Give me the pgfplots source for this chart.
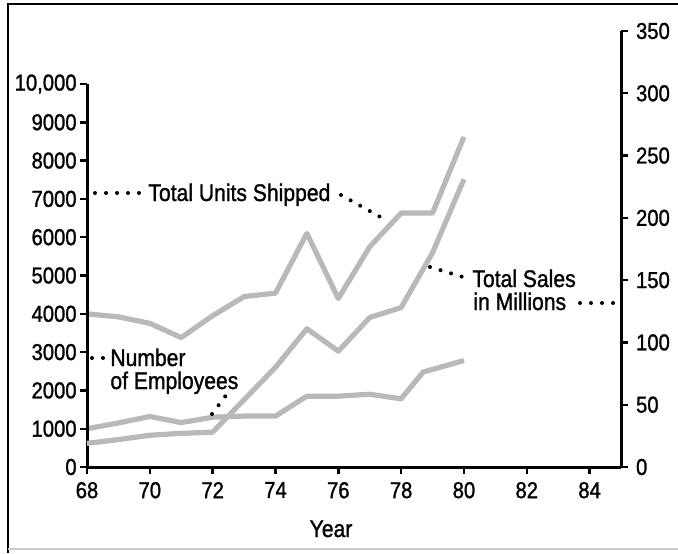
\documentclass[border=0pt]{standalone}
\usepackage{fontspec}
\setmainfont{Liberation Sans}[FakeStretch=0.88, FakeBold=1.2]
\usepackage{pgfplots}
\pgfplotsset{compat=1.18}
\definecolor{linegray}{RGB}{185,185,185}
\tikzset{leader/.style={line width=2pt, line cap=round, dash pattern=on 0pt off 5.5pt}}
\newcommand{\lblfont}{\fontsize{11.5}{13}\selectfont}
\newcommand{\annfont}{\fontsize{12}{14}\selectfont}
\begin{document}
\lblfont
\begin{tikzpicture}
\path[use as bounding box] (0,0) rectangle (339pt,276.5pt);
\begin{scope}[shift={(0pt,276.5pt)},x=0.5pt,y=-0.5pt]
  \draw[line width=1pt] (8,553) -- (8,4) -- (678,4);
  \draw[line width=0.6pt, black!20] (8,549) -- (678,549);
\end{scope}

\begin{axis}[
  at={(43.5pt,43pt)}, anchor=south west, scale only axis,
  width=267pt, height=218pt,
  xmin=68, xmax=85, ymin=0, ymax=11384,
  axis x line*=bottom, axis y line*=left,
  y axis line style={draw=none},
  x axis line style={-, line width=1.5pt},
  scaled y ticks=false, scaled x ticks=false,
  xtick={68,70,...,84},
  xticklabel={\lblfont\pgfmathprintnumber[assume math mode=true,1000 sep={}]{\tick}},
  ytick={0,1000,...,10000},
  yticklabels={0,1000,2000,3000,4000,5000,6000,7000,8000,9000,{10,000}},
  yticklabel style={inner sep=1.5pt},
  tick align=outside,
  major tick length=3.5pt,
  tick style={line width=1.2pt, black},
  ticklabel style={font=\lblfont},
  clip=false,
]
% Total Units Shipped
\addplot[linegray, line width=2.6pt, line join=round] coordinates {
  (68,4000) (69,3920) (70,3750) (71,3380) (72,3950) (73,4450) (74,4540)
  (75,6100) (76,4400) (77,5750) (78,6630) (79,6630) (80,8620)
};
% Number of Employees
\addplot[linegray, line width=2.6pt, line join=round] coordinates {
  (68,1000) (69,1150) (70,1320) (71,1160) (72,1300) (73,1330) (74,1330)
  (75,1850) (76,1850) (77,1900) (78,1780) (78.7,2480) (80,2780)
};
\draw[line width=1.5pt] (axis cs:68,0) -- (axis cs:68,10000);
\end{axis}

\begin{axis}[
  at={(43.5pt,43pt)}, anchor=south west, scale only axis,
  width=267pt, height=218pt,
  xmin=68, xmax=85, ymin=0, ymax=350,
  axis x line=none, axis y line*=right,
  y axis line style={-, line width=1.5pt},
  ytick={0,50,...,350},
  yticklabel={\lblfont\pgfmathprintnumber[assume math mode=true]{\tick}},
  tick align=outside,
  major tick length=3.5pt,
  tick style={line width=1.2pt, black},
  ticklabel style={font=\lblfont},
  clip=false,
]
% Total Sales in Millions
\addplot[linegray, line width=2.6pt, line join=round] coordinates {
  (68,19) (69,22) (70,25.5) (71,27) (72,28) (73,54) (74,80)
  (75,111) (76,93) (77,120) (78,128) (79,172) (80,231)
};
\end{axis}

\begin{scope}[shift={(0pt,276.5pt)},x=0.5pt,y=-0.5pt, every node/.style={font=\annfont, inner sep=0}]
  \draw[leader] (95,193) -- (140,193);
  \node[anchor=base west] at (148,201) {Total Units Shipped};
  \draw[leader] (341,195) -- (384,219);
  \draw[leader] (92,358) -- (105,358);
  \node[anchor=base west] at (110,366) {Number};
  \node[anchor=base west] at (110,389) {of Employees};
  \draw[leader] (212,414) -- (227,394);
  \draw[leader] (430,267) -- (463,277);
  \node[anchor=base west] at (472,287) {Total Sales};
  \node[anchor=base west] at (473,310) {in Millions};
  \draw[leader] (580,303) -- (614,303);
  \node[anchor=base] at (331,537) {Year};
\end{scope}
\end{tikzpicture}
\end{document}
